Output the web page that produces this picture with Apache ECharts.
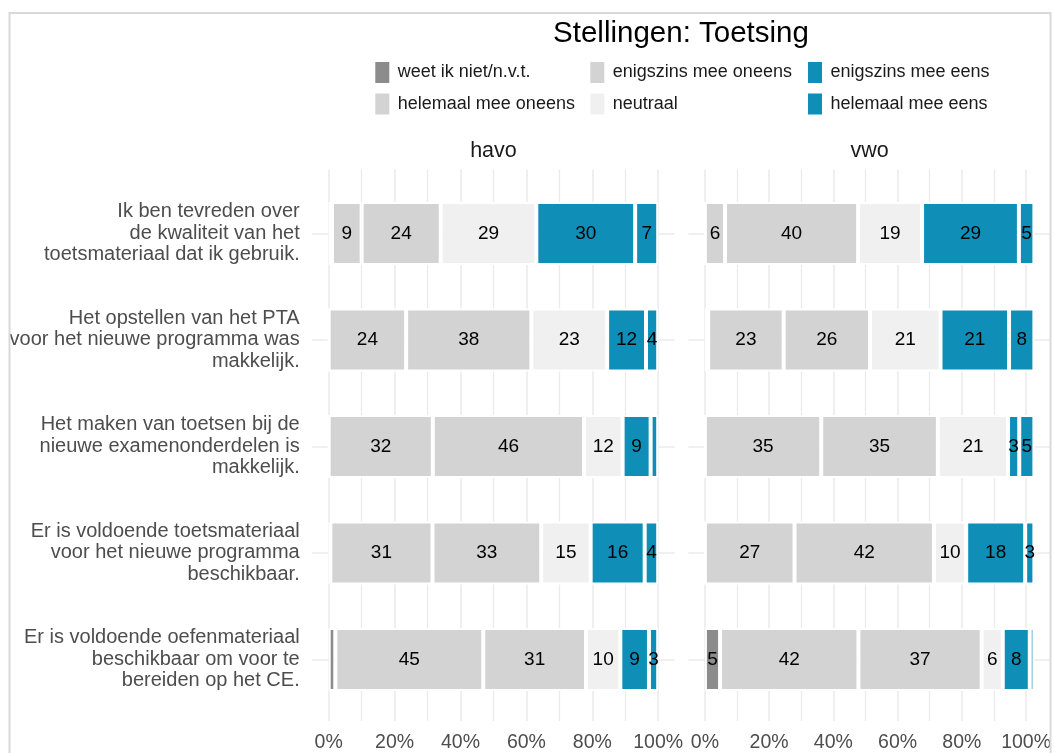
<!DOCTYPE html>
<html>
<head>
<meta charset="utf-8">
<title>Stellingen: Toetsing</title>
<script src="https://cdn.jsdelivr.net/npm/echarts@6/dist/echarts.min.js"></script>
<style>
  html, body { margin: 0; padding: 0; background: #fff; }
  #chart { width: 1054px; height: 753px; }
</style>
</head>
<body>
<div id="chart"></div>
<script>
const statements = [
  'Ik ben tevreden over\nde kwaliteit van het\ntoetsmateriaal dat ik gebruik.',
  'Het opstellen van het PTA\nvoor het nieuwe programma was\nmakkelijk.',
  'Het maken van toetsen bij de\nnieuwe examenonderdelen is\nmakkelijk.',
  'Er is voldoende toetsmateriaal\nvoor het nieuwe programma\nbeschikbaar.',
  'Er is voldoende oefenmateriaal\nbeschikbaar om voor te\nbereiden op het CE.'
]

const levels = [
  'weet ik niet/n.v.t.',
  'helemaal mee oneens',
  'enigszins mee oneens',
  'neutraal',
  'enigszins mee eens',
  'helemaal mee eens'
]
const levelColors = ['#8c8c8c', '#d3d3d3', '#d3d3d3', '#f0f0f0', '#0f8fb7', '#0f8fb7']

const panels = ['havo', 'vwo']

// percentages per answer level, one value per statement (top to bottom)
const havoWeetNiet = [1, 0, 0, 0.5, 2.0]
const havoHelemaalOneens = [9, 23.5, 31.6, 31, 44.9]
const havoEnigszinsOneens = [24, 38, 45.9, 33, 31.2]
const havoNeutraal = [29, 23, 11.7, 15, 10.4]
const havoEnigszinsEens = [30, 11.8, 8.5, 16.4, 8.7]
const havoHelemaalEens = [7, 3.7, 2.3, 4.1, 2.8]

const vwoWeetNiet = [0, 1, 0, 0, 4.6]
const vwoHelemaalOneens = [6.1, 22.9, 35.3, 27.2, 42.0]
const vwoEnigszinsOneens = [40.4, 26.2, 35.4, 42.3, 37.4]
const vwoNeutraal = [19.4, 21.4, 21.3, 9.8, 6.4]
const vwoEnigszinsEens = [29.4, 20.8, 3.4, 17.9, 8.2]
const vwoHelemaalEens = [4.7, 7.7, 4.6, 2.8, 1.4]

const xTicks = [0, 20, 40, 60, 80, 100]

const panelData = [
  [havoWeetNiet, havoHelemaalOneens, havoEnigszinsOneens, havoNeutraal, havoEnigszinsEens, havoHelemaalEens],
  [vwoWeetNiet, vwoHelemaalOneens, vwoEnigszinsOneens, vwoNeutraal, vwoEnigszinsEens, vwoHelemaalEens]
]

const gridColor = '#ebebeb'
const axisWidth = 329.5
const panelLefts = [328.7, 704.9]
const barTop = 180.2
const barHeight = 532.5
const band = barHeight / statements.length

const grids = []
const xAxes = []
const yAxes = []
const series = []

panelLefts.forEach((left, p) => {
  const pad = axisWidth * 0.05
  // 0: vertical grid lines + percent labels
  grids.push({ left: left, width: axisWidth, top: barTop - band * 0.1, height: barHeight + band * 0.2 })
  // 1: horizontal grid lines through the statement centers
  grids.push({ left: left - pad, width: axisWidth + 2 * pad, top: barTop + band / 2, height: barHeight - band })
  // 2: the stacked bars
  grids.push({ left: left, width: axisWidth, top: barTop, height: barHeight })

  xAxes.push({
    gridIndex: p * 3, type: 'value', min: 0, max: 100, interval: 20,
    axisLine: { show: false }, axisTick: { show: false },
    axisLabel: { fontSize: 19.5, color: '#4d4d4d', margin: 12, formatter: v => xTicks.includes(v) ? v + '%' : '' },
    splitLine: { lineStyle: { color: gridColor, width: 1.6 } },
    minorTick: { show: false, splitNumber: 2 },
    minorSplitLine: { show: true, lineStyle: { color: gridColor, width: 1.3 } }
  })
  yAxes.push({ gridIndex: p * 3, type: 'value', min: 0, max: 1, show: false })

  xAxes.push({ gridIndex: p * 3 + 1, type: 'value', min: 0, max: 1, show: false })
  yAxes.push({
    gridIndex: p * 3 + 1, type: 'category', data: statements, inverse: true, boundaryGap: false,
    axisLine: { show: false }, axisTick: { show: false }, axisLabel: { show: false },
    splitLine: { show: true, lineStyle: { color: gridColor, width: 1.6 } }
  })

  xAxes.push({ gridIndex: p * 3 + 2, type: 'value', min: 0, max: 100, show: false })
  yAxes.push({
    gridIndex: p * 3 + 2, type: 'category', data: statements, inverse: true,
    axisLine: { show: false }, axisTick: { show: false }, splitLine: { show: false },
    axisLabel: {
      show: p === 0, fontSize: 20, lineHeight: 21.5, color: '#4d4d4d', margin: 29, align: 'right',
      padding: [5, 0, 0, 0]
    }
  })

  levels.forEach((name, i) => {
    series.push({
      name: name,
      type: 'bar',
      stack: panels[p],
      xAxisIndex: p * 3 + 2,
      yAxisIndex: p * 3 + 2,
      barWidth: 63,
      data: panelData[p][i],
      itemStyle: { color: levelColors[i], borderColor: '#ffffff', borderWidth: 2 },
      label: {
        show: true, position: 'inside', color: '#000', fontSize: 19,
        formatter: d => d.value >= 2.5 ? Math.round(d.value) : ''
      },
      emphasis: { disabled: true }
    })
  })
})

const legendLefts = [373.3, 588.3, 806]
const legends = legendLefts.map((left, c) => ({
  data: levels.slice(c * 2, c * 2 + 2),
  orient: 'vertical', left: left, top: 60, padding: 0,
  itemWidth: 16, itemHeight: 23, itemGap: 6.5, icon: 'rect',
  selectedMode: false,
  textStyle: { fontSize: 18, color: '#1a1a1a', padding: [0, 0, 0, 2.5] }
}))

const option = {
  animation: false,
  textStyle: { fontFamily: 'Liberation Sans, Arial, sans-serif' },
  title: [
    { text: 'Stellingen: Toetsing', left: 681, top: 19, textAlign: 'center', padding: 0,
      textStyle: { fontSize: 29.5, fontWeight: 'normal', color: '#000' } },
    { text: panels[0], left: panelLefts[0] + axisWidth / 2, top: 140, textAlign: 'center', padding: 0,
      textStyle: { fontSize: 21.5, fontWeight: 'normal', color: '#1a1a1a' } },
    { text: panels[1], left: panelLefts[1] + axisWidth / 2, top: 140, textAlign: 'center', padding: 0,
      textStyle: { fontSize: 21.5, fontWeight: 'normal', color: '#1a1a1a' } }
  ],
  legend: legends,
  grid: grids,
  xAxis: xAxes,
  yAxis: yAxes,
  series: series,
  graphic: [{
    type: 'rect', silent: true, z: 100,
    shape: { x: 9.5, y: 13, width: 1041, height: 780 },
    style: { fill: 'none', stroke: '#d9d9d9', lineWidth: 2 }
  }]
}

const chart = echarts.init(document.getElementById('chart'))
chart.setOption(option)
</script>
</body>
</html>
